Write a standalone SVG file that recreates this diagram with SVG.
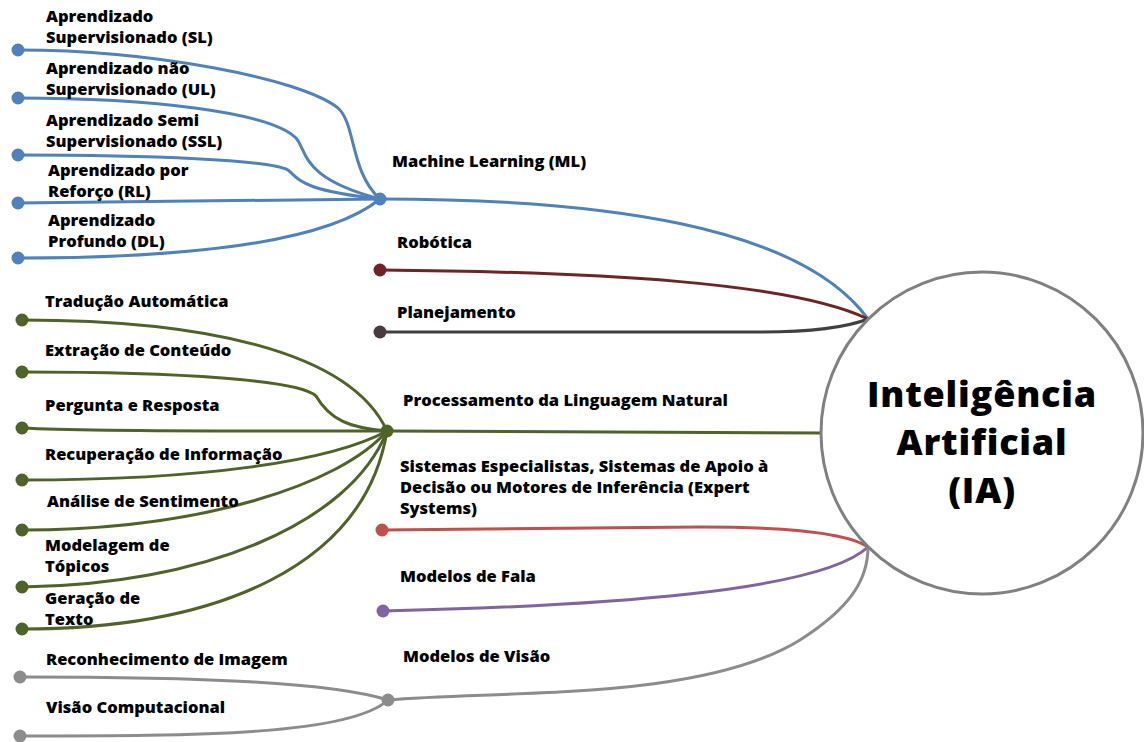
<svg xmlns="http://www.w3.org/2000/svg" width="1144" height="742" viewBox="0 0 1144 742">
  <style>
    .lbl { font-family: "Open Sans", "Noto Sans", "Liberation Sans", sans-serif; font-weight: 800; font-size: 16.5px; fill: #000; }
    .title { font-family: "Open Sans", "Noto Sans", "Liberation Sans", sans-serif; font-weight: 800; font-size: 36px; letter-spacing: 0.8px; fill: #000; text-anchor: middle; }
    .edge { fill: none; stroke-width: 3; stroke-linecap: round; }
    .blue { stroke: #4f81bd; } .blueF { fill: #4f81bd; }
    .maroon { stroke: #6e2424; } .maroonF { fill: #6e2424; }
    .dark { stroke: #404040; } .darkF { fill: #4a3a40; }
    .green { stroke: #4f6228; } .greenF { fill: #4f6228; }
    .red { stroke: #c0504d; } .redF { fill: #c0504d; }
    .purple { stroke: #8064a2; } .purpleF { fill: #8064a2; }
    .gray { stroke: #8c8c8c; } .grayF { fill: #8c8c8c; }
  </style>
  <rect width="1144" height="742" fill="#fff"/>

  <g id="connectors">
    <!-- Machine Learning branch -->
    <path class="edge blue" d="M18,50 C150,50 300,78 338,108 C356,124 350,172 380,199"/>
    <path class="edge blue" d="M18,98 C150,98 270,112 296,138 C308,152 300,178 380,199"/>
    <path class="edge blue" d="M18,155 C150,155 270,160 288,170 C300,180 300,190 380,199"/>
    <path class="edge blue" d="M18,203 L380,199"/>
    <path class="edge blue" d="M18,258 C200,258 330,240 380,199"/>
    <path class="edge blue" d="M380,199 C600,199 800,225 868,319"/>
    <!-- Robótica / Planejamento -->
    <path class="edge maroon" d="M380,270 C600,272 790,282 868,319"/>
    <path class="edge dark" d="M380,332 L760,332 C820,332 850,326 868,319"/>
    <!-- Natural language processing branch -->
    <path class="edge green" d="M22,320 C200,320 350,350 387,431"/>
    <path class="edge green" d="M22,372 C180,372 300,380 316,396 C330,420 350,428 387,431"/>
    <path class="edge green" d="M22,428 C100,432 300,431 387,431"/>
    <path class="edge green" d="M22,480 C200,480 330,462 387,431"/>
    <path class="edge green" d="M22,530 C200,530 340,485 387,431"/>
    <path class="edge green" d="M22,587 C200,585 350,525 387,431"/>
    <path class="edge green" d="M22,629 C220,629 365,565 387,431"/>
    <path class="edge green" d="M387,431 L821,433"/>
    <!-- Expert systems / speech / vision -->
    <path class="edge red" d="M382,530 L700,527 C800,527 850,535 868,547"/>
    <path class="edge purple" d="M383,611 C600,606 820,592 868,547"/>
    <path class="edge gray" d="M388,700 C500,690 700,702 800,640 C850,608 868,580 868,547"/>
    <path class="edge gray" d="M20,677 C200,677 330,682 388,700"/>
    <path class="edge gray" d="M20,736 C200,736 350,735 388,700"/>
  </g>

  <g id="ia">
    <circle cx="982" cy="433" r="161" fill="#fff" stroke="#808080" stroke-width="3"/>
    <text class="title" x="982" y="407">Inteligência<tspan x="982" dy="48">Artificial</tspan><tspan x="982" dy="48">(IA)</tspan></text>
  </g>

  <g id="ml">
    <circle class="blueF" cx="380" cy="199" r="6.5"/>
    <text class="lbl" x="392" y="167">Machine Learning (ML)</text>
  </g>
  <g id="sl">
    <circle class="blueF" cx="18" cy="50" r="6.5"/>
    <text class="lbl" x="46" y="22">Aprendizado<tspan x="46" dy="21">Supervisionado (SL)</tspan></text>
  </g>
  <g id="ul">
    <circle class="blueF" cx="18" cy="98" r="6.5"/>
    <text class="lbl" x="46" y="74">Aprendizado não<tspan x="46" dy="21">Supervisionado (UL)</tspan></text>
  </g>
  <g id="ssl">
    <circle class="blueF" cx="18" cy="155" r="6.5"/>
    <text class="lbl" x="46" y="126">Aprendizado Semi<tspan x="46" dy="21">Supervisionado (SSL)</tspan></text>
  </g>
  <g id="rl">
    <circle class="blueF" cx="18" cy="203" r="6.5"/>
    <text class="lbl" x="48" y="176">Aprendizado por<tspan x="48" dy="21">Reforço (RL)</tspan></text>
  </g>
  <g id="dl">
    <circle class="blueF" cx="18" cy="258" r="6.5"/>
    <text class="lbl" x="48" y="226">Aprendizado<tspan x="48" dy="21">Profundo (DL)</tspan></text>
  </g>

  <g id="robotica">
    <circle class="maroonF" cx="380" cy="270" r="6.5"/>
    <text class="lbl" x="397" y="248">Robótica</text>
  </g>
  <g id="planejamento">
    <circle class="darkF" cx="380" cy="332" r="6.5"/>
    <text class="lbl" x="397" y="318">Planejamento</text>
  </g>

  <g id="pln">
    <circle class="greenF" cx="387" cy="431" r="6.5"/>
    <text class="lbl" x="403" y="406">Processamento da Linguagem Natural</text>
  </g>
  <g id="traducao">
    <circle class="greenF" cx="22" cy="320" r="6.5"/>
    <text class="lbl" x="45" y="307">Tradução Automática</text>
  </g>
  <g id="extracao">
    <circle class="greenF" cx="22" cy="372" r="6.5"/>
    <text class="lbl" x="45" y="356">Extração de Conteúdo</text>
  </g>
  <g id="pergunta">
    <circle class="greenF" cx="22" cy="428" r="6.5"/>
    <text class="lbl" x="45" y="411">Pergunta e Resposta</text>
  </g>
  <g id="recuperacao">
    <circle class="greenF" cx="22" cy="480" r="6.5"/>
    <text class="lbl" x="45" y="460">Recuperação de Informação</text>
  </g>
  <g id="analise">
    <circle class="greenF" cx="22" cy="530" r="6.5"/>
    <text class="lbl" x="47" y="507">Análise de Sentimento</text>
  </g>
  <g id="topicos">
    <circle class="greenF" cx="22" cy="587" r="6.5"/>
    <text class="lbl" x="45" y="551">Modelagem de<tspan x="45" dy="21">Tópicos</tspan></text>
  </g>
  <g id="geracao">
    <circle class="greenF" cx="22" cy="629" r="6.5"/>
    <text class="lbl" x="45" y="604">Geração de<tspan x="45" dy="21">Texto</tspan></text>
  </g>

  <g id="expert">
    <circle class="redF" cx="382" cy="530" r="6.5"/>
    <text class="lbl" x="400" y="472">Sistemas Especialistas, Sistemas de Apoio à<tspan x="400" dy="21">Decisão ou Motores de Inferência (Expert</tspan><tspan x="400" dy="21">Systems)</tspan></text>
  </g>
  <g id="fala">
    <circle class="purpleF" cx="383" cy="611" r="6.5"/>
    <text class="lbl" x="400" y="582">Modelos de Fala</text>
  </g>
  <g id="visao">
    <circle class="grayF" cx="388" cy="700" r="6.5"/>
    <text class="lbl" x="403" y="662">Modelos de Visão</text>
  </g>
  <g id="reconhecimento">
    <circle class="grayF" cx="20" cy="677" r="6.5"/>
    <text class="lbl" x="46" y="665">Reconhecimento de Imagem</text>
  </g>
  <g id="visao-comp">
    <circle class="grayF" cx="20" cy="736" r="6.5"/>
    <text class="lbl" x="46" y="713">Visão Computacional</text>
  </g>
</svg>
